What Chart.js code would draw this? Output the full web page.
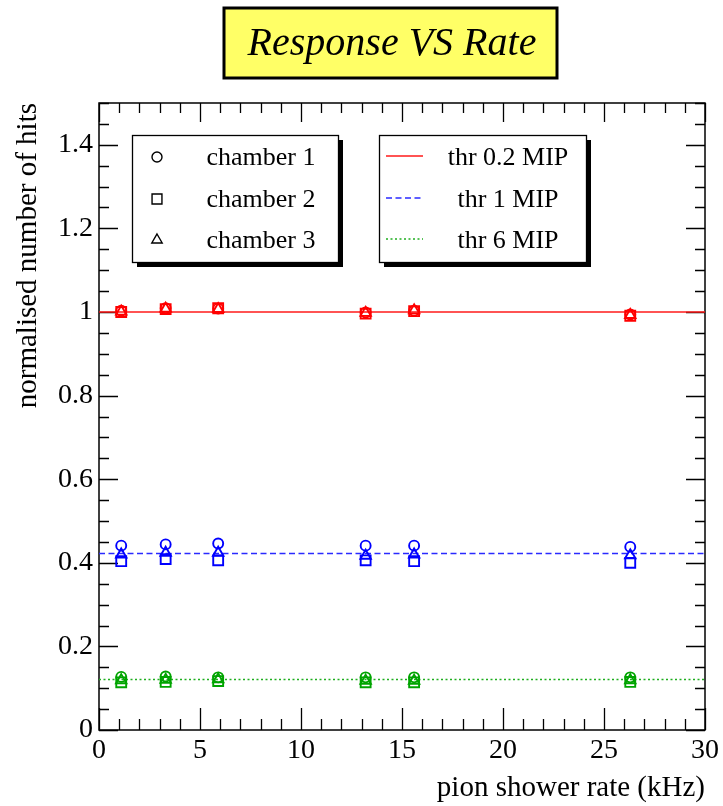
<!DOCTYPE html>
<html>
<head>
<meta charset="utf-8">
<script src="https://cdn.jsdelivr.net/npm/chart.js@4/dist/chart.umd.min.js"></script>
<style>
  html, body { margin: 0; padding: 0; background: #fff; overflow: hidden; }
  canvas { display: block; }
</style>
</head>
<body>
<canvas id="c" width="723" height="806"></canvas>
<script>
// Pion shower rate (kHz) of each run
const rates = [1.1, 3.3, 5.9, 13.2, 15.6, 26.3];

const chamberNames = ['chamber 1', 'chamber 2', 'chamber 3'];
const thresholdNames = ['thr 0.2 MIP', 'thr 1 MIP', 'thr 6 MIP'];

// Mean response level per threshold (horizontal reference lines)
const thresholdLevels = [1.0, 0.422, 0.121];

// Normalised number of hits, chamber 1
const ch1Thr02 = [1.003, 1.009, 1.008, 0.999, 1.003, 0.994];
const ch1Thr1  = [0.441, 0.444, 0.446, 0.441, 0.441, 0.438];
const ch1Thr6  = [0.127, 0.128, 0.126, 0.126, 0.126, 0.126];
// chamber 2
const ch2Thr02 = [1.000, 1.007, 1.009, 0.996, 1.002, 0.991];
const ch2Thr1  = [0.404, 0.409, 0.406, 0.406, 0.404, 0.400];
const ch2Thr6  = [0.114, 0.115, 0.117, 0.114, 0.114, 0.115];
// chamber 3
const ch3Thr02 = [1.001, 1.008, 1.007, 0.998, 1.004, 0.993];
const ch3Thr1  = [0.420, 0.424, 0.424, 0.417, 0.420, 0.418];
const ch3Thr6  = [0.119, 0.120, 0.121, 0.118, 0.118, 0.119];

const xTickValues = [0, 5, 10, 15, 20, 25, 30];
const yTickValues = [0, 0.2, 0.4, 0.6, 0.8, 1, 1.2, 1.4];

const chamberSeries = [
  [ch1Thr02, ch1Thr1, ch1Thr6],
  [ch2Thr02, ch2Thr1, ch2Thr6],
  [ch3Thr02, ch3Thr1, ch3Thr6]
];

const SERIF = '"Liberation Serif", "DejaVu Serif", serif';
const markerStyles = ['circle', 'rect', 'triangle'];
const markerRadii = [5, 7, 6];
const markerColors = ['#ff0000', '#0000ff', '#00a400'];
const lineColors = ['#ff1a1a', '#2a2aff', '#1fae1f'];
const lineDashes = [[], [6, 3.5], [2, 2.5]];

const datasets = [];
// threshold reference lines
thresholdLevels.forEach((lvl, t) => {
  datasets.push({
    type: 'line',
    label: thresholdNames[t],
    data: [{ x: 0, y: lvl }, { x: 30, y: lvl }],
    borderColor: lineColors[t],
    borderWidth: t === 0 ? 1.7 : 1.5,
    borderDash: lineDashes[t],
    pointRadius: 0,
    fill: false,
    tension: 0,
    order: 1
  });
});
// measured points
chamberSeries.forEach((series, c) => {
  series.forEach((vals, t) => {
    datasets.push({
      type: 'scatter',
      label: chamberNames[c] + ' / ' + thresholdNames[t],
      data: rates.map((r, i) => ({ x: r, y: vals[i] })),
      showLine: false,
      pointStyle: markerStyles[c],
      pointRadius: markerRadii[c],
      pointHoverRadius: markerRadii[c],
      pointBorderWidth: 1.9,
      pointBorderColor: markerColors[t],
      pointBackgroundColor: 'rgba(0,0,0,0)',
      order: 0
    });
  });
});

// Frame with inward major/minor ticks on all four sides (under the data)
const framePlugin = {
  id: 'frame',
  beforeDatasetsDraw(chart) {
    const { ctx, chartArea: a, scales: { x, y } } = chart;
    ctx.save();
    ctx.strokeStyle = '#000';
    ctx.lineWidth = 1.5;
    ctx.strokeRect(a.left, a.top, a.right - a.left, a.bottom - a.top);
    ctx.lineWidth = 1.3;
    ctx.beginPath();
    for (let v = 0; v <= 30.0001; v += 1) {
      const px = Math.round(x.getPixelForValue(v)) + 0.5;
      const major = Math.abs(v % 5) < 1e-6;
      const lb = major ? 22 : 11;
      const lt = major ? 19 : 10;
      ctx.moveTo(px, a.bottom); ctx.lineTo(px, a.bottom - lb);
      ctx.moveTo(px, a.top); ctx.lineTo(px, a.top + lt);
    }
    for (let i = 0; i <= 30; i++) {
      const v = i * 0.05;
      const py = Math.round(y.getPixelForValue(v)) + 0.5;
      const major = i % 4 === 0;
      const l = major ? 19 : 10;
      ctx.moveTo(a.left, py); ctx.lineTo(a.left + l, py);
      ctx.moveTo(a.right, py); ctx.lineTo(a.right - l, py);
    }
    ctx.stroke();
    ctx.restore();
  }
};

// Title pave and the two legend boxes
const decorPlugin = {
  id: 'decor',
  afterDraw(chart) {
    const ctx = chart.ctx;
    ctx.save();
    // title
    ctx.fillStyle = '#ffff66';
    ctx.fillRect(224, 8, 333, 70);
    ctx.lineWidth = 3;
    ctx.strokeStyle = '#000';
    ctx.strokeRect(224, 8, 333, 70);
    ctx.fillStyle = '#000';
    ctx.font = 'italic 40px ' + SERIF;
    ctx.textAlign = 'center';
    ctx.textBaseline = 'middle';
    ctx.fillText('Response VS Rate', 392, 44);

    function box(x0, y0, w, h) {
      ctx.fillStyle = '#000';
      ctx.fillRect(x0 + 5, y0 + 5, w, h);
      ctx.fillStyle = '#fff';
      ctx.fillRect(x0, y0, w, h);
      ctx.lineWidth = 1.3;
      ctx.strokeStyle = '#000';
      ctx.strokeRect(x0 + 0.5, y0 + 0.5, w, h);
    }
    const rows = [157, 199, 240];
    ctx.font = '26px ' + SERIF;
    ctx.textBaseline = 'middle';

    // chamber markers
    box(132, 135, 206, 127);
    chamberNames.forEach((name, i) => {
      ctx.strokeStyle = '#000';
      ctx.fillStyle = 'rgba(0,0,0,0)';
      ctx.lineWidth = 1.4;
      Chart.helpers.drawPoint(ctx, {
        pointStyle: markerStyles[i], radius: markerRadii[i], borderWidth: 1.4, rotation: 0
      }, 157, rows[i]);
      ctx.fillStyle = '#000';
      ctx.textAlign = 'center';
      ctx.fillText(name, 261, rows[i] + 1);
    });

    // threshold lines
    box(379, 135, 207, 127);
    const lineDs = chart.data.datasets.filter(d => d.type === 'line');
    lineDs.forEach((d, i) => {
      ctx.strokeStyle = d.borderColor;
      ctx.lineWidth = d.borderWidth;
      ctx.setLineDash(d.borderDash);
      ctx.beginPath();
      ctx.moveTo(386, rows[i] - 1);
      ctx.lineTo(423, rows[i] - 1);
      ctx.stroke();
      ctx.setLineDash([]);
      ctx.fillStyle = '#000';
      ctx.textAlign = 'center';
      ctx.fillText(d.label, 508, rows[i] + 1);
    });
    ctx.restore();
  }
};

new Chart(document.getElementById('c'), {
  type: 'scatter',
  data: { datasets },
  options: {
    responsive: false,
    animation: false,
    devicePixelRatio: 1,
    layout: { padding: { top: 103, right: 14, bottom: 0, left: 0 } },
    plugins: {
      legend: { display: false },
      title: { display: false },
      tooltip: { enabled: false }
    },
    scales: {
      x: {
        type: 'linear',
        min: 0, max: 30,
        grid: { display: false, drawTicks: false },
        border: { display: false },
        afterBuildTicks: s => { s.ticks = xTickValues.map(v => ({ value: v })); },
        afterFit: s => { s.height = 76; },
        ticks: {
          color: '#000', font: { family: SERIF, size: 28 }, padding: 4, maxRotation: 0,
          callback: v => String(v)
        },
        title: {
          display: true, text: 'pion shower rate (kHz)', align: 'end', color: '#000',
          font: { family: SERIF, size: 29 }, padding: { top: 0, bottom: 0 }
        }
      },
      y: {
        type: 'linear',
        min: 0, max: 1.5,
        grid: { display: false, drawTicks: false },
        border: { display: false },
        afterBuildTicks: s => { s.ticks = yTickValues.map(v => ({ value: v })); },
        afterFit: s => { s.width = 99; },
        ticks: {
          color: '#000', font: { family: SERIF, size: 28 }, padding: 6,
          callback: v => String(Math.round(v * 10) / 10)
        },
        title: {
          display: true, text: 'normalised number of hits', align: 'end', color: '#000',
          font: { family: SERIF, size: 29 }, padding: { top: 11, bottom: 0 }
        }
      }
    }
  },
  plugins: [framePlugin, decorPlugin]
});
</script>
</body>
</html>
